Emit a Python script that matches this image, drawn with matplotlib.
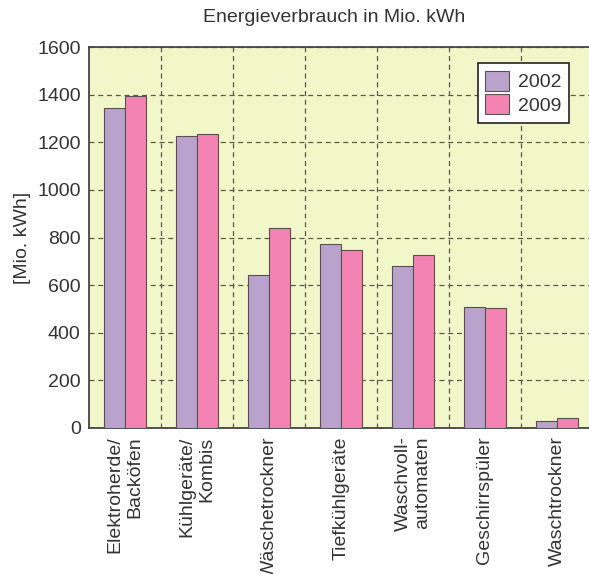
import numpy as np
import matplotlib
matplotlib.use("Agg")
import matplotlib.pyplot as plt

plt.rcParams['font.family'] = ['Liberation Sans', 'DejaVu Sans']

categories = ['Elektroherde/\nBacköfen', 'Kühlgeräte/\nKombis', 'Wäschetrockner',
              'Tiefkühlgeräte', 'Waschvoll-\nautomaten', 'Geschirrspüler', 'Waschtrockner']
values_2002 = [1342, 1227, 642, 771, 681, 509, 31]
values_2009 = [1393, 1235, 838, 748, 725, 502, 42]
series_labels = ['2002', '2009']

col_2002 = '#b9a3cc'
col_2009 = '#f283b3'
text_col = '#333333'

fig = plt.figure(figsize=(5.89, 5.74), dpi=100)
ax = fig.add_axes([89 / 589, 1 - 428 / 574, 504 / 589, 381 / 574])
ax.set_facecolor('#f1f7c9')

x = np.arange(len(categories))
w = 0.285
ax.bar(x - w / 2, values_2002, w, color=col_2002, edgecolor='#5a5050', linewidth=0.8,
       label=series_labels[0], zorder=3)
ax.bar(x + w / 2, values_2009, w, color=col_2009, edgecolor='#5a5050', linewidth=0.8,
       label=series_labels[1], zorder=3)

ax.set_xlim(-0.5, len(categories) - 0.5)
ax.set_ylim(0, 1600)
ax.set_yticks(range(0, 1601, 200))
ax.set_xticks(x)
ax.set_xticklabels(categories, rotation=90, ha='center', va='top',
                   multialignment='right', fontsize=14, color=text_col)
ax.tick_params(axis='both', length=0, pad=6, labelsize=14, labelcolor=text_col)

# dashed vertical lines sit between the categories
ax.set_xticks(np.arange(0.5, len(categories) - 0.5), minor=True)
ax.tick_params(axis='x', which='minor', length=0)
ax.grid(True, which='major', axis='y', linestyle=(0, (4, 3)), color='#5a5a45', linewidth=0.9, zorder=1)
ax.grid(True, which='minor', axis='x', linestyle=(0, (4, 3)), color='#5a5a45', linewidth=0.9, zorder=1)

for s in ax.spines.values():
    s.set_color('#444444')
    s.set_linewidth(1.3)

ax.set_ylabel('[Mio. kWh]', fontsize=14, color=text_col, labelpad=4)
fig.text(334 / 589, 1 - 18 / 574, 'Energieverbrauch in Mio. kWh', ha='center', va='center',
         fontsize=14, color=text_col)

leg = ax.legend(loc='upper right', bbox_to_anchor=(0.952, 0.958), borderaxespad=0,
                fontsize=14, frameon=True, fancybox=False, edgecolor='#222222',
                framealpha=1, borderpad=0.4, handlelength=1.2, handleheight=1.2,
                handletextpad=0.45, labelspacing=0.15, labelcolor=text_col)
leg.get_frame().set_linewidth(1.2)

fig.savefig('out.png', dpi=100, facecolor='white')
